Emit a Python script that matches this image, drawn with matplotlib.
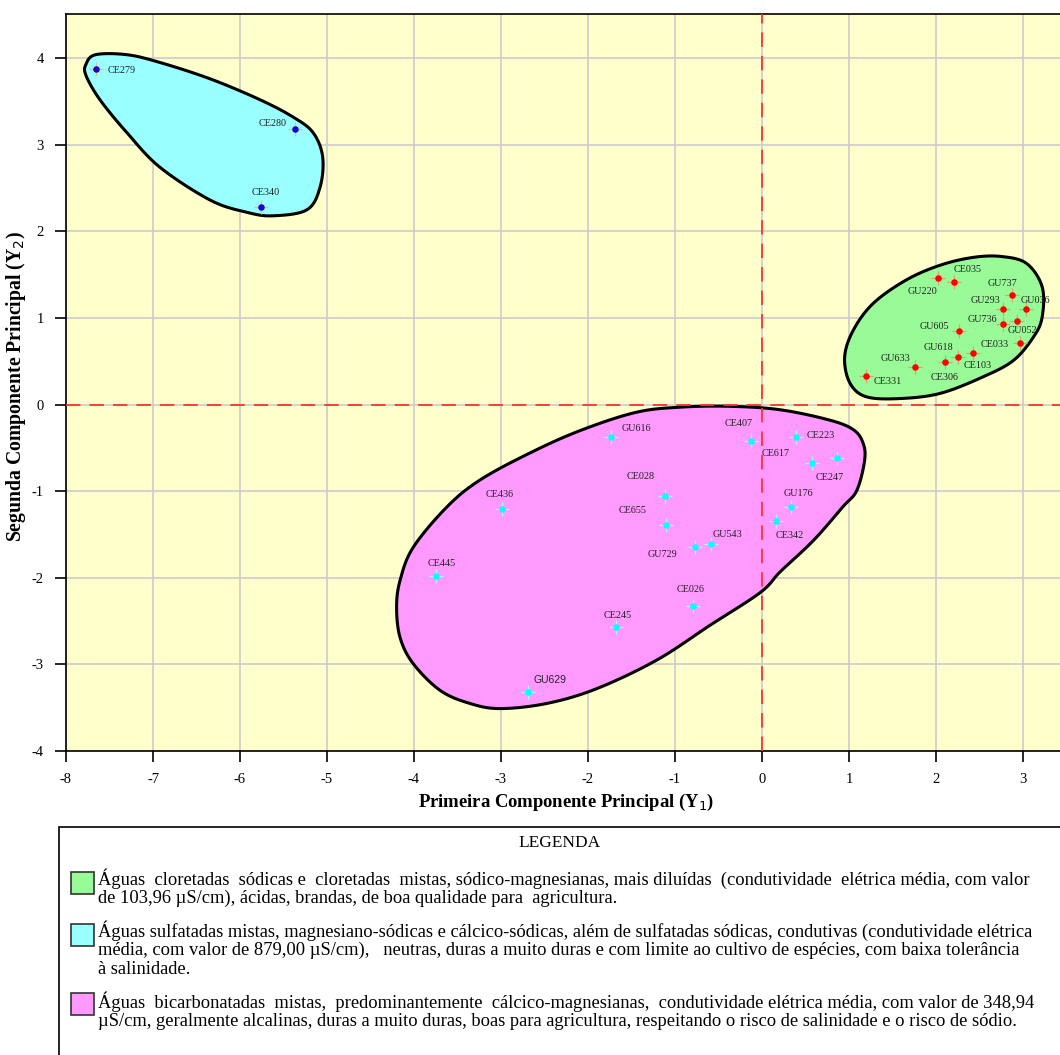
import numpy as np
import matplotlib
matplotlib.use("Agg")
import matplotlib.pyplot as plt
from matplotlib.patches import Polygon, Rectangle

# --- dados (escores das componentes principais) ---
azul_nomes = ["CE279", "CE280", "CE340"]
azul_y1 = [-7.65, -5.37, -5.76]
azul_y2 = [3.87, 3.18, 2.28]

verm_nomes = ["GU220", "CE035", "GU737", "GU293", "GU036", "GU736", "GU052",
              "GU605", "CE033", "CE103", "GU618", "CE306", "GU633", "CE331"]
verm_y1 = [2.02, 2.21, 2.87, 2.77, 3.03, 2.77, 2.93, 2.26, 2.96, 2.43, 2.25, 2.10, 1.76, 1.20]
verm_y2 = [1.46, 1.41, 1.26, 1.10, 1.10, 0.93, 0.97, 0.85, 0.71, 0.59, 0.55, 0.49, 0.43, 0.33]

ciano_nomes = ["GU616", "CE407", "CE223", "CE617", "CE247", "CE028", "CE655", "GU176",
               "CE342", "GU543", "GU729", "CE436", "CE445", "CE245", "GU629", "CE026"]
ciano_y1 = [-1.74, -0.13, 0.39, 0.58, 0.86, -1.11, -1.10, 0.33,
            0.16, -0.59, -0.77, -2.99, -3.75, -1.68, -2.69, -0.79]
ciano_y2 = [-0.38, -0.42, -0.37, -0.68, -0.62, -1.06, -1.39, -1.18,
            -1.35, -1.61, -1.65, -1.20, -1.98, -2.57, -3.32, -2.33]

# contornos dos grupos (Y1, Y2)
contorno_ciano = [(-7.77, 3.93), (-7.66, 4.04), (-7.30, 4.04), (-6.92, 3.95), (-6.34, 3.76),
                  (-5.77, 3.52), (-5.39, 3.32), (-5.16, 3.14), (-5.05, 2.86), (-5.08, 2.51),
                  (-5.23, 2.25), (-5.62, 2.18), (-5.92, 2.22), (-6.34, 2.36), (-6.92, 2.74),
                  (-7.30, 3.14), (-7.61, 3.52), (-7.77, 3.80)]
contorno_verde = [(0.95, 0.55), (1.05, 0.86), (1.28, 1.17), (1.66, 1.44), (2.05, 1.61),
                  (2.43, 1.70), (2.75, 1.71), (3.04, 1.63), (3.22, 1.36), (3.22, 1.01),
                  (3.12, 0.78), (2.89, 0.51), (2.54, 0.32), (2.05, 0.13), (1.59, 0.07),
                  (1.20, 0.09), (1.01, 0.25)]
contorno_magenta = [(-4.16, -2.03), (-4.01, -1.65), (-3.62, -1.18), (-3.24, -0.87), (-2.67, -0.56),
                    (-2.09, -0.30), (-1.45, -0.09), (-0.94, -0.03), (-0.37, -0.02), (0.21, -0.06),
                    (0.78, -0.18), (1.05, -0.29), (1.16, -0.44), (1.18, -0.64), (1.09, -0.99),
                    (0.93, -1.18), (0.59, -1.57), (0.21, -1.93), (-0.02, -2.17), (-0.60, -2.55),
                    (-1.21, -2.95), (-1.90, -3.28), (-2.47, -3.45), (-3.01, -3.51), (-3.36, -3.45),
                    (-3.70, -3.30), (-4.01, -2.99), (-4.16, -2.69), (-4.20, -2.34)]

legenda = [
    ("#98fb98", ["Águas  cloretadas  sódicas e  cloretadas  mistas, sódico-magnesianas, mais diluídas  (condutividade  elétrica média, com valor",
                 "de 103,96 µS/cm), ácidas, brandas, de boa qualidade para  agricultura."]),
    ("#99ffff", ["Águas sulfatadas mistas, magnesiano-sódicas e cálcico-sódicas, além de sulfatadas sódicas, condutivas (condutividade elétrica",
                 "média, com valor de 879,00 µS/cm),   neutras, duras a muito duras e com limite ao cultivo de espécies, com baixa tolerância",
                 "à salinidade."]),
    ("#ff99ff", ["Águas  bicarbonatadas  mistas,  predominantemente  cálcico-magnesianas,  condutividade elétrica média, com valor de 348,94",
                 "µS/cm, geralmente alcalinas, duras a muito duras, boas para agricultura, respeitando o risco de salinidade e o risco de sódio."]),
]

# deslocamento dos rótulos em pixels (dx, dy para baixo)
off_azul = [(25, 1), (-22, -6), (5, -15)]
off_verm = [(-15, 13), (13, -13), (-9, -12), (-17, -9), (10, -9), (-21, -5), (6, 10),
            (-24, -4), (-25, 1), (4, 12), (-19, -9), (0, 15), (-20, -9), (21, 5)]
off_ciano = [(26, -9), (-12, -17), (25, -1), (-37, -10), (-7, 19), (-25, -20), (-34, -14), (8, -13),
             (14, 14), (17, -10), (-33, 7), (-2, -14), (6, -13), (2, -12), (22, -12), (-3, -17)]


def suaviza(pts, n=30):
    p = np.array(pts)
    m = len(p)
    out = []
    for i in range(m):
        p0, p1, p2, p3 = p[i - 1], p[i], p[(i + 1) % m], p[(i + 2) % m]
        for t in np.linspace(0, 1, n, endpoint=False):
            t2, t3 = t * t, t * t * t
            out.append(0.5 * ((2 * p1) + (-p0 + p2) * t + (2 * p0 - 5 * p1 + 4 * p2 - p3) * t2
                              + (-p0 + 3 * p1 - 3 * p2 + p3) * t3))
    return np.array(out)


plt.rcParams['font.family'] = ['Liberation Serif', 'DejaVu Serif']
plt.rcParams['axes.unicode_minus'] = False

fig = plt.figure(figsize=(10.6, 10.55), dpi=100)
ax = fig.add_axes([66 / 1060, 304 / 1055, 1044 / 1060, 737 / 1055])
ax.set_facecolor("#ffffcc")
ax.set_xlim(-8, 4)
ax.set_ylim(-4, 4.51)
ax.set_xticks(range(-8, 4))
ax.set_yticks(range(-4, 5))
ax.grid(True, color="#cccccc", lw=1.2, zorder=0)
ax.set_axisbelow(True)
ax.tick_params(direction="out", length=8, width=1.2, labelsize=10.5, colors="black", pad=8)
for s in ["left", "bottom", "top"]:
    ax.spines[s].set_linewidth(1.2)
ax.spines["right"].set_visible(False)

for cont, cor in [(contorno_ciano, "#99ffff"), (contorno_verde, "#98fb98"), (contorno_magenta, "#ff99ff")]:
    ax.add_patch(Polygon(suaviza(cont), closed=True, facecolor=cor, edgecolor="black", lw=2.2, zorder=2))

ax.axhline(0, color="#ff3333", ls=(0, (8, 5)), lw=1.3, zorder=3)
ax.axvline(0, color="#ff3333", ls=(0, (8, 5)), lw=1.3, zorder=3)


def pontos(xs, ys, nomes, offs, cor, cruz):
    ax.scatter(xs, ys, marker="+", s=110, color=cruz, lw=0.9, zorder=4)
    ax.scatter(xs, ys, marker="o", s=22, color=cor, lw=0, zorder=5)
    for x, y, nome, (dx, dy) in zip(xs, ys, nomes, offs):
        fam = ["Liberation Sans"] if nome == "GU629" else ["Liberation Serif"]
        ax.annotate(nome, (x, y), xytext=(dx, -dy), textcoords="offset pixels",
                    ha="center", va="center", fontsize=7.5 if nome == "GU629" else 7.3,
                    family=fam, color="#222222", zorder=6)


pontos(azul_y1, azul_y2, azul_nomes, off_azul, "#2200cc", "#e0c080")
pontos(verm_y1, verm_y2, verm_nomes, off_verm, "#ff0000", "#e0a070")
pontos(ciano_y1, ciano_y2, ciano_nomes, off_ciano, "#00ffff", "#a0ffff")

ax.set_xlabel("Primeira Componente Principal (Y$_1$)", fontsize=13.4, fontweight="bold")
ax.xaxis.set_label_coords((566 - 66) / 1044, (751 - 792) / 737)
ax.set_ylabel("Segunda Componente Principal (Y$_2$)", fontsize=14.2, fontweight="bold")
ax.yaxis.set_label_coords((28 - 66) / 1044, (751 - 387) / 737)

# caixa da legenda
fig.patches.append(Rectangle((59 / 1060, -0.1), 1.0, (1055 - 827) / 1055 + 0.1,
                             transform=fig.transFigure, facecolor="white", edgecolor="black", lw=1.2))
fig.text(560 / 1060, 1 - 843 / 1055, "LEGENDA", ha="center", va="center", fontsize=12.5)

linhas_y = [[879, 898], [931, 950, 969], [1002, 1021]]
caixas_y = [872, 924, 993]
for (cor, linhas), ys, cy in zip(legenda, linhas_y, caixas_y):
    fig.patches.append(Rectangle((71 / 1060, 1 - (cy + 22) / 1055), 23 / 1060, 22 / 1055,
                                 transform=fig.transFigure, facecolor=cor, edgecolor="#333333", lw=1.2))
    for txt, yy in zip(linhas, ys):
        fig.text(98 / 1060, 1 - yy / 1055, txt, ha="left", va="center", fontsize=13.3)

fig.savefig("out.png", dpi=100)
